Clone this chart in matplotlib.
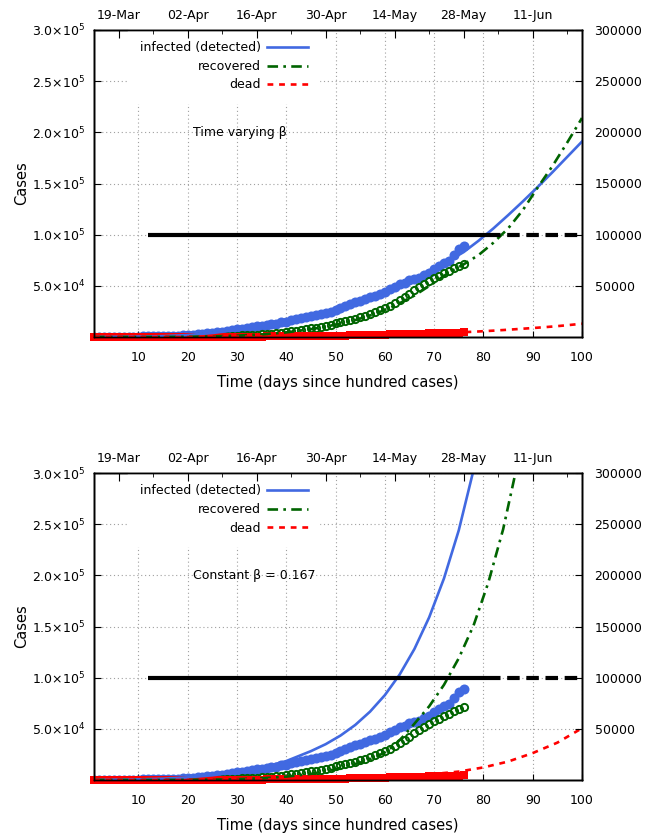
import matplotlib
matplotlib.use('Agg')
import matplotlib.pyplot as plt
import numpy as np
import pandas as pd
from matplotlib.ticker import FixedLocator, FuncFormatter, NullFormatter

# ---------------- data ----------------
days = list(range(1, 77))
infected_obs = [100, 105, 115, 130, 150, 180, 230, 290, 370, 430,
                500, 580, 650, 770, 830, 950, 1100, 1250, 1650, 2000,
                2300, 2800, 3100, 3700, 4300, 4600, 5100, 5700, 6500, 7400,
                8000, 8700, 9800, 10500, 11000, 11600, 12300, 13000, 14200, 15000,
                16500, 17700, 18600, 19500, 20800, 21400, 22000, 23700, 24600, 26000,
                28000, 30000, 32000, 34000, 35400, 37000, 38600, 40000, 42500, 44000,
                47000, 49000, 51500, 53000, 55800, 56300, 57900, 60800, 63000, 66300,
                69500, 72000, 74000, 80000, 86000, 89000]
recovered_obs = [10, 10, 13, 14, 15, 20, 23, 25, 27, 40,
                 43, 45, 50, 75, 95, 120, 145, 165, 190, 230,
                 270, 330, 400, 480, 560, 640, 780, 970, 1190, 1360,
                 1520, 1770, 2000, 2300, 2550, 2850, 3250, 3700, 4300, 5000,
                 5600, 6300, 7000, 7700, 8400, 9100, 10000, 11000, 12000, 13200,
                 14200, 15300, 16500, 17900, 19400, 21000, 22500, 24400, 26200, 28000,
                 30200, 33000, 36000, 39000, 42500, 45500, 48500, 51800, 54500, 57500,
                 60000, 62500, 64500, 67000, 69000, 71000]
dead_obs = [2, 2, 2, 3, 3, 4, 4, 5, 7, 9,
            10, 13, 17, 20, 24, 29, 32, 38, 50, 58,
            72, 83, 100, 114, 130, 150, 170, 200, 240, 290,
            330, 360, 390, 420, 450, 490, 520, 560, 600, 650,
            690, 730, 780, 830, 880, 940, 1010, 1080, 1150, 1220,
            1320, 1400, 1570, 1690, 1790, 1890, 1990, 2110, 2230, 2350,
            2460, 2560, 2650, 2760, 2870, 3030, 3150, 3300, 3440, 3580,
            3730, 3870, 4020, 4180, 4340, 4530]

# model: time varying beta
tv_x = [1, 5, 10, 15, 20, 25, 30, 35, 40, 45, 50, 54, 58, 62, 66, 70, 73, 76,
        79, 82, 85, 88, 91, 94, 97, 100]
tv_infected = [100, 180, 420, 850, 1900, 3900, 6800, 10800, 15200, 20500, 26500,
               32500, 40000, 48500, 57000, 66500, 74500, 83000, 94000, 106000,
               119000, 132500, 146500, 161000, 176000, 191000]
tv_recovered = [10, 15, 40, 100, 230, 560, 1300, 2500, 4500, 7600, 12000, 16500,
                22500, 30500, 40500, 53000, 63000, 71000, 80000, 92000, 106000,
                124000, 146000, 167000, 190000, 214000]
tv_dead = [2, 3, 9, 24, 60, 130, 280, 450, 640, 880, 1220, 1600, 2100, 2500, 3000,
           3600, 4100, 4700, 5400, 6200, 7100, 8100, 9100, 10200, 11500, 13000]

# model: constant beta = 0.167
cb_inf_x = [1, 5, 10, 15, 20, 25, 30, 35, 40, 45, 48, 51, 54, 57, 60, 63, 66, 69,
            72, 75, 78, 80]
cb_infected = [130, 280, 600, 1300, 2600, 4600, 7600, 12000, 18500, 28200, 35000,
               43400, 53800, 66800, 82900, 103000, 128000, 159000, 197000, 244000,
               303000, 349000]
cb_rec_x = [1, 5, 10, 15, 20, 25, 30, 35, 40, 45, 50, 55, 58, 60, 62, 64, 66, 69,
            72, 75, 78, 81, 84, 87]
cb_recovered = [10, 15, 30, 70, 170, 380, 800, 1700, 3300, 6000, 10500, 17000,
                22000, 27000, 34000, 44000, 55000, 72000, 93000, 119000, 151000,
                193000, 245000, 311000]
cb_dead_x = [1, 10, 20, 30, 40, 45, 50, 55, 60, 65, 70, 75, 80, 85, 90, 95, 100]
cb_dead = [2, 9, 60, 290, 700, 1000, 1500, 2200, 3000, 4200, 5900, 8200, 12300,
           18000, 26300, 36500, 50600]

threshold = 100000
threshold_solid = [12, 81]
threshold_dashed = [81, 100]

day_zero = pd.Timestamp('2020-03-13')
date_ticks = pd.date_range('2020-03-19', periods=7, freq='14D')
date_minor = pd.date_range('2020-03-12', periods=9, freq='14D')

legend_labels = ['infected (detected)', 'recovered', 'dead']
panel_notes = ['Time varying \u03b2', 'Constant \u03b2 = 0.167']

# ---------------- style ----------------
BLUE = '#4169e1'
GREEN = '#006400'
RED = '#ff0000'
FS = 9
plt.rcParams['font.family'] = ['DejaVu Sans']
plt.rcParams['mathtext.fontset'] = 'dejavusans'

fig = plt.figure(figsize=(6.64, 8.39), dpi=100)


def sci(v, _):
    m, e = f'{v:.1e}'.split('e')
    return r'$\mathregular{%s{\times}10^{%d}}$' % (m, int(e))


def panel(rect, inf_x, inf_y, rec_x, rec_y, dead_x, dead_y, note):
    ax = fig.add_axes(rect)
    ax.set_xlim(1, 100)
    ax.set_ylim(0, 300000)

    # observations
    ax.plot(days, infected_obs, 'o', color=BLUE, ms=7.2, mew=0, zorder=3)
    ax.plot(days, recovered_obs, 'o', mfc='none', mec=GREEN, ms=5.2, mew=1.4, zorder=3)
    ax.plot(days, dead_obs, 's', color=RED, ms=5.8, mew=0, zorder=3, clip_on=False)

    # models
    l1, = ax.plot(inf_x, inf_y, '-', color=BLUE, lw=1.9, zorder=4)
    l2, = ax.plot(rec_x, rec_y, color=GREEN, lw=1.9, zorder=4,
                  linestyle=(0, (4, 2, 1, 2)))
    l3, = ax.plot(dead_x, dead_y, color=RED, lw=1.9, zorder=4,
                  linestyle=(0, (2.2, 2.2)))

    ax.plot(threshold_solid, [threshold] * 2, '-', color='black', lw=3, zorder=5,
            solid_capstyle='butt')
    ax.plot(threshold_dashed, [threshold] * 2, color='black', lw=3, zorder=5,
            linestyle=(0, (3, 1.6)), dash_capstyle='butt')

    ax.text(21, 200000, note, fontsize=FS, va='center', ha='left')

    ax.xaxis.set_major_locator(FixedLocator(list(range(10, 101, 10))))
    ax.yaxis.set_major_locator(FixedLocator([50000 * k for k in range(1, 7)]))
    ax.yaxis.set_major_formatter(FuncFormatter(sci))
    ax.tick_params(axis='x', direction='in', length=4, pad=10, labelsize=FS,
                   top=False)
    ax.tick_params(axis='y', direction='in', length=5, pad=6, labelsize=FS,
                   right=False)
    ax.grid(True, color='#a0a0a0', lw=0.8, linestyle=(0, (1, 2.5)))
    ax.set_axisbelow(True)
    ax.set_xlabel('Time (days since hundred cases)', fontsize=10.5, labelpad=8)
    ax.set_ylabel('Cases', fontsize=10.5, labelpad=2)

    leg = ax.legend([l1, l2, l3], legend_labels, loc='upper right',
                    bbox_to_anchor=(0.462, 1.0), markerfirst=False,
                    fontsize=FS, handlelength=3.3, handletextpad=0.5,
                    labelspacing=0.45, borderpad=0.9, borderaxespad=0,
                    frameon=True, fancybox=False, framealpha=1,
                    facecolor='white', edgecolor='white')
    leg.set_zorder(6)

    # right axis
    axr = ax.twinx()
    axr.set_ylim(ax.get_ylim())
    axr.yaxis.set_major_locator(FixedLocator([50000 * k for k in range(1, 7)]))
    axr.yaxis.set_major_formatter(FuncFormatter(lambda v, _: f'{int(v)}'))
    axr.tick_params(axis='y', direction='in', length=5, pad=9, labelsize=FS)

    # top date axis
    axt = ax.twiny()
    axt.set_xlim(ax.get_xlim())
    major_pos = [(d - day_zero).days for d in date_ticks]
    minor_pos = [(d - day_zero).days for d in date_minor]
    minor_pos = [p for p in minor_pos if 1 <= p <= 100]
    axt.xaxis.set_major_locator(FixedLocator(major_pos))
    axt.xaxis.set_minor_locator(FixedLocator(minor_pos))
    axt.set_xticklabels([d.strftime('%d-%b') for d in date_ticks])
    axt.xaxis.set_minor_formatter(NullFormatter())
    axt.tick_params(axis='x', which='major', direction='in', length=6, pad=6,
                    labelsize=FS)
    axt.tick_params(axis='x', which='minor', direction='in', length=3)
    for a in (ax, axr, axt):
        for s in a.spines.values():
            s.set_linewidth(1.0)
    return ax


W, H = 664, 839
left, right = 94, 582
panel([left / W, 1 - 337 / H, (right - left) / W, 307 / H],
      tv_x, tv_infected, tv_x, tv_recovered, tv_x, tv_dead, panel_notes[0])
panel([left / W, 1 - 780 / H, (right - left) / W, 307 / H],
      cb_inf_x, cb_infected, cb_rec_x, cb_recovered, cb_dead_x, cb_dead,
      panel_notes[1])

fig.savefig('out.png', dpi=100)
